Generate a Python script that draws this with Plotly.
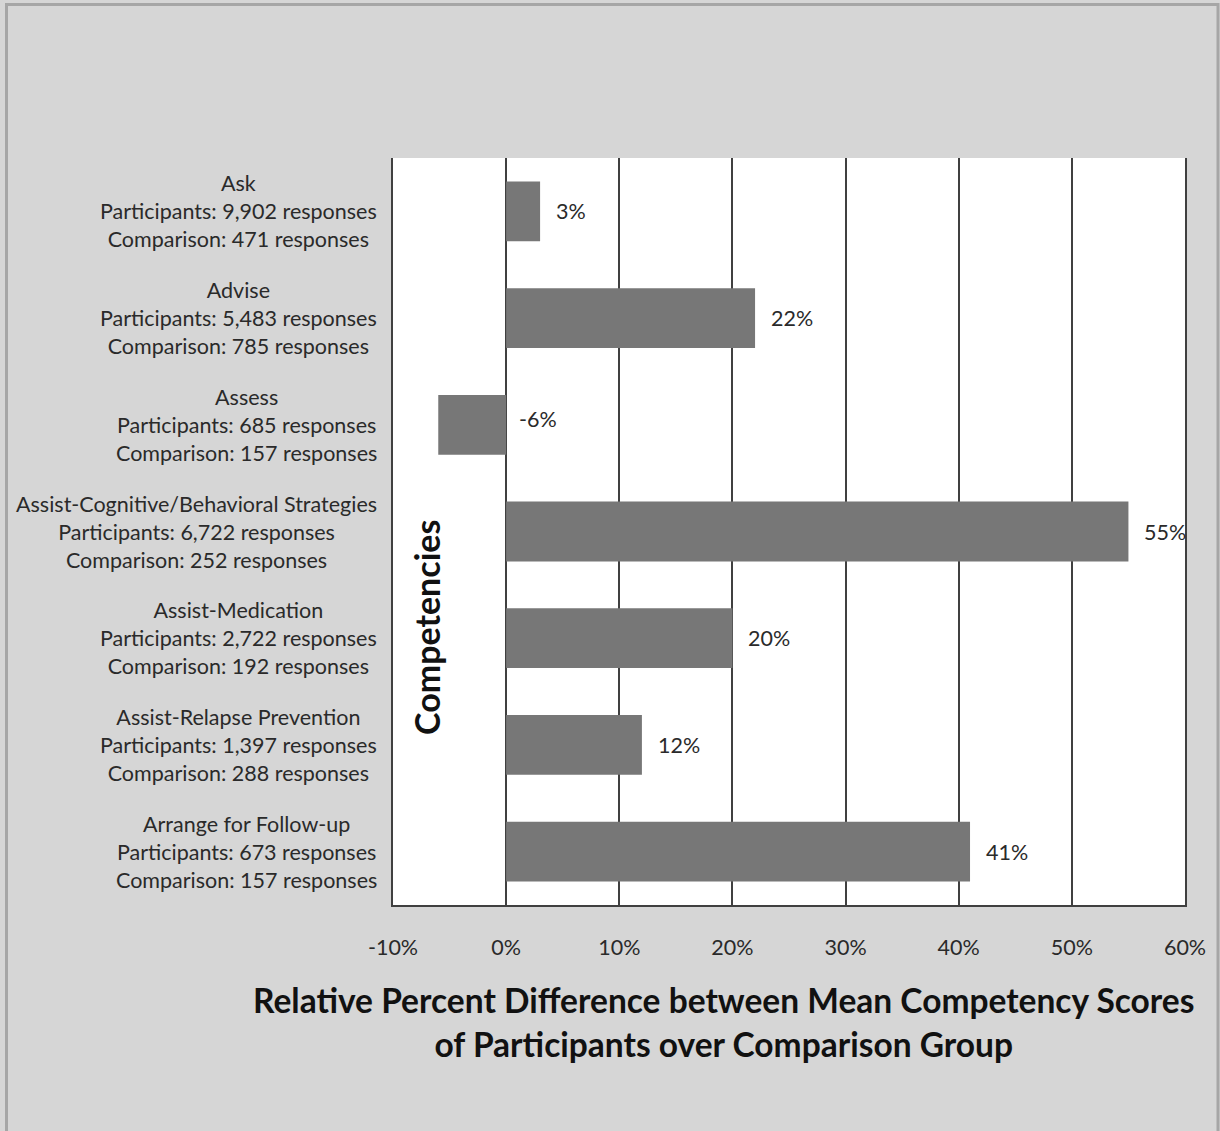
import plotly.graph_objects as go

# Competency categories (top to bottom) and response counts
competencies = [
    "Ask",
    "Advise",
    "Assess",
    "Assist-Cognitive/Behavioral Strategies",
    "Assist-Medication",
    "Assist-Relapse Prevention",
    "Arrange for Follow-up",
]
participants = ["9,902", "5,483", "685", "6,722", "2,722", "1,397", "673"]
comparison = ["471", "785", "157", "252", "192", "288", "157"]

# Relative percent difference of participants over comparison group
pct_diff = [3, 22, -6, 55, 20, 12, 41]

x_ticks = [-10, 0, 10, 20, 30, 40, 50, 60]
x_tick_labels = ["-10%", "0%", "10%", "20%", "30%", "40%", "50%", "60%"]

BG = "#d6d6d6"
BAR = "#777777"
GRID = "#404040"
TEXT = "#2a2a2a"
FONT = "Lato, Open Sans, sans-serif"
SMALL = 21.5

fig = go.Figure()
fig.add_trace(go.Bar(
    x=pct_diff,
    y=competencies,
    orientation="h",
    marker=dict(color=BAR, line=dict(width=0)),
    width=0.56,
    hoverinfo="skip",
))

annotations = []
# Category labels: three centred lines, right edge next to the plot
for name, p, c in zip(competencies, participants, comparison):
    annotations.append(dict(
        x=0, xref="paper", y=name, yref="y",
        xanchor="right", yanchor="middle", xshift=-14,
        align="center", showarrow=False,
        text=f"{name}<br>Participants: {p} responses<br>Comparison: {c} responses",
        font=dict(family=FONT, size=SMALL, color=TEXT),
    ))

# Value labels
for name, v in zip(competencies, pct_diff):
    annotations.append(dict(
        x=max(v, 0), xref="x", y=name, yref="y",
        xanchor="left", yanchor="middle", xshift=11 if v < 0 else 14, yshift=6 if v < 0 else 0,
        showarrow=False, text=f"{v}%",
        font=dict(family=FONT, size=SMALL, color=TEXT),
    ))

# Axis titles
annotations.append(dict(
    x=(723 - 393) / 792, xref="paper", y=(905 - 1022) / 747, yref="paper",
    xanchor="center", yanchor="middle", showarrow=False, align="center",
    text="<b>Relative Percent Difference between Mean Competency Scores<br>of Participants over Comparison Group</b>",
    font=dict(family=FONT, size=33.5, color="#111111"),
))
annotations.append(dict(
    x=(426 - 393) / 792, xref="paper", y=(905 - 628) / 747, yref="paper",
    xanchor="center", yanchor="middle", showarrow=False, textangle=-90,
    text="<b>Competencies</b>",
    font=dict(family=FONT, size=34, color="#111111"),
))

fig.update_layout(
    width=1220, height=1131,
    margin=dict(l=393, r=35, t=158, b=226),
    paper_bgcolor=BG, plot_bgcolor="white",
    showlegend=False,
    bargap=0.44,
    annotations=annotations,
    shapes=[dict(
        type="rect", xref="paper", yref="paper",
        x0=(6.5 - 393) / 792, x1=(1218 - 393) / 792,
        y0=(905 - 1140) / 747, y1=(905 - 4.5) / 747,
        line=dict(color="#a6a6a6", width=3), fillcolor="rgba(0,0,0,0)",
        layer="below",
    )],
    xaxis=dict(
        range=[-10, 60], tickvals=x_ticks, ticktext=x_tick_labels,
        showgrid=True, gridcolor=GRID, gridwidth=2,
        zeroline=True, zerolinecolor=GRID, zerolinewidth=2,
        showline=True, linecolor=GRID, linewidth=2,
        ticks="outside", ticklen=22, tickcolor="rgba(0,0,0,0)",
        tickfont=dict(family=FONT, size=SMALL, color=TEXT),
        fixedrange=True,
    ),
    yaxis=dict(
        categoryorder="array", categoryarray=competencies[::-1],
        showticklabels=False, showgrid=False, zeroline=False,
        showline=True, mirror=True, linecolor=GRID, linewidth=2,
        fixedrange=True,
    ),
)

fig.write_html("out.html")
